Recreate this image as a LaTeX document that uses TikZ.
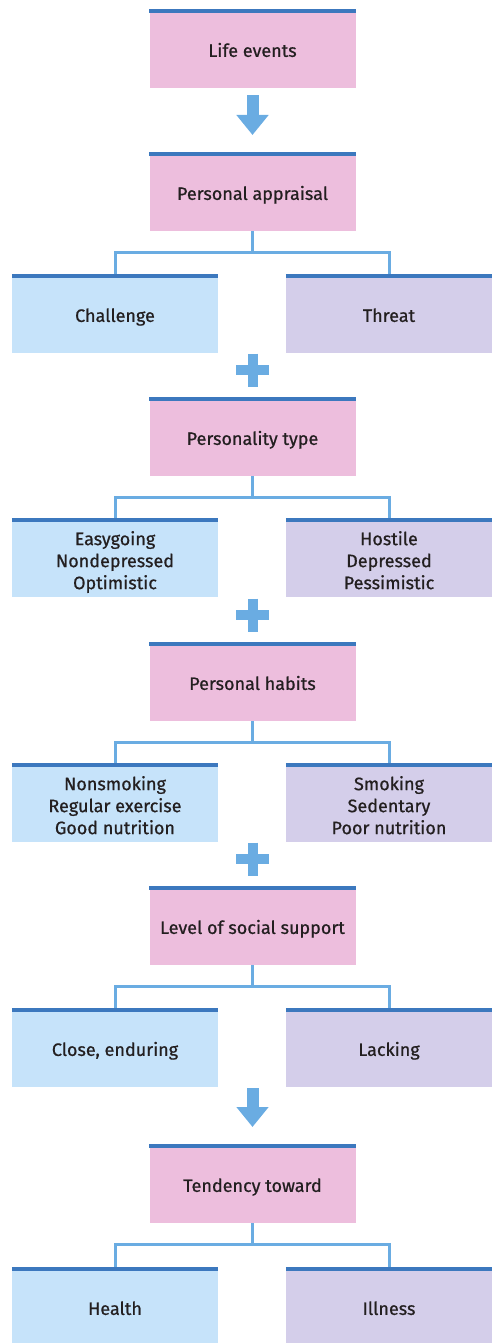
\documentclass[tikz,border=0pt]{standalone}
\usepackage{fontspec}
\setmainfont{Fira Sans}[BoldFont={Fira Sans}, BoldFeatures={FakeBold=0.7}]
\usetikzlibrary{arrows.meta}
\definecolor{pinkbox}{RGB}{237,190,221}
\definecolor{bluebox}{RGB}{198,227,250}
\definecolor{lavbox}{RGB}{212,206,234}
\definecolor{barblue}{RGB}{60,120,190}
\definecolor{linkblue}{RGB}{106,172,226}
\definecolor{txt}{RGB}{35,31,32}
\newcommand\tallstrut{\rule{0pt}{25.5pt}}
\tikzset{
  box/.style={rectangle, anchor=north, minimum width=206pt, minimum height=79pt, inner sep=0pt, align=center, text=txt, font=\fontsize{18}{22}\selectfont\bfseries, execute at begin node={\rule{0pt}{23pt}}, execute at end node=\strut},
  mainbox/.style={box, fill=pinkbox},
  goodbox/.style={box, fill=bluebox},
  badbox/.style={box, fill=lavbox},
  topbar/.style={draw=barblue, line width=4pt},
  link/.style={draw=linkblue, line width=3pt},
  bigarrow/.style={draw=linkblue, line width=12pt, -{Triangle[width=31pt,length=20pt]}},
  plussign/.style={draw=linkblue, line width=10pt}
}
\begin{document}
\begin{tikzpicture}[x=1pt,y=1pt]
\useasboundingbox (0,0) rectangle (495,-1343);
% boxes
\node[mainbox] (life) at (252.5,-9) {Life events};
\node[mainbox] (appraisal) at (252.5,-152) {Personal appraisal};
\node[goodbox] (challenge) at (115,-274) {Challenge};
\node[badbox] (threat) at (389,-274) {Threat};
\node[mainbox] (ptype) at (252.5,-397) {Personality type};
\node[goodbox] (easy) at (115,-518) {\tallstrut Easygoing\\Nondepressed\\Optimistic};
\node[badbox] (hostile) at (389,-518) {\tallstrut Hostile\\Depressed\\Pessimistic};
\node[mainbox] (habits) at (252.5,-642) {Personal habits};
\node[goodbox] (nonsmoke) at (115,-763) {\tallstrut Nonsmoking\\Regular exercise\\Good nutrition};
\node[badbox] (smoke) at (389,-763) {\tallstrut Smoking\\Sedentary\\Poor nutrition};
\node[mainbox] (social) at (252.5,-886) {Level of social support};
\node[goodbox] (close) at (115,-1008) {Close, enduring};
\node[badbox] (lacking) at (389,-1008) {Lacking};
\node[mainbox] (tend) at (252.5,-1144) {Tendency toward};
\node[goodbox] (health) at (115,-1267) {Health};
\node[badbox] (illness) at (389,-1267) {Illness};
% top bars
\foreach \n in {life,appraisal,challenge,threat,ptype,easy,hostile,habits,nonsmoke,smoke,social,close,lacking,tend,health,illness}
  \draw[topbar] ([yshift=-2pt]\n.north west) -- ([yshift=-2pt]\n.north east);
% tree links
\foreach \p/\a/\b in {appraisal/challenge/threat, ptype/easy/hostile, habits/nonsmoke/smoke, social/close/lacking, tend/health/illness} {
  \draw[link] (\p.south) -- ([yshift=-21pt]\p.south);
  \draw[link] (\a.north) |- ([yshift=-21pt]\p.south) -| (\b.north);
}
% big arrows
\draw[bigarrow] ([yshift=-7pt]life.south) -- ([yshift=17pt]appraisal.north);
\draw[bigarrow] ([yshift=-1pt]tend.north |- close.south) -- ([yshift=17pt]tend.north);
% plus signs
\foreach \n in {ptype,habits,social} {
  \draw[plussign] ([xshift=-16.5pt,yshift=27pt]\n.north) -- ([xshift=16.5pt,yshift=27pt]\n.north);
  \draw[plussign] ([yshift=43.5pt]\n.north) -- ([yshift=10.5pt]\n.north);
}
\end{tikzpicture}
\end{document}
